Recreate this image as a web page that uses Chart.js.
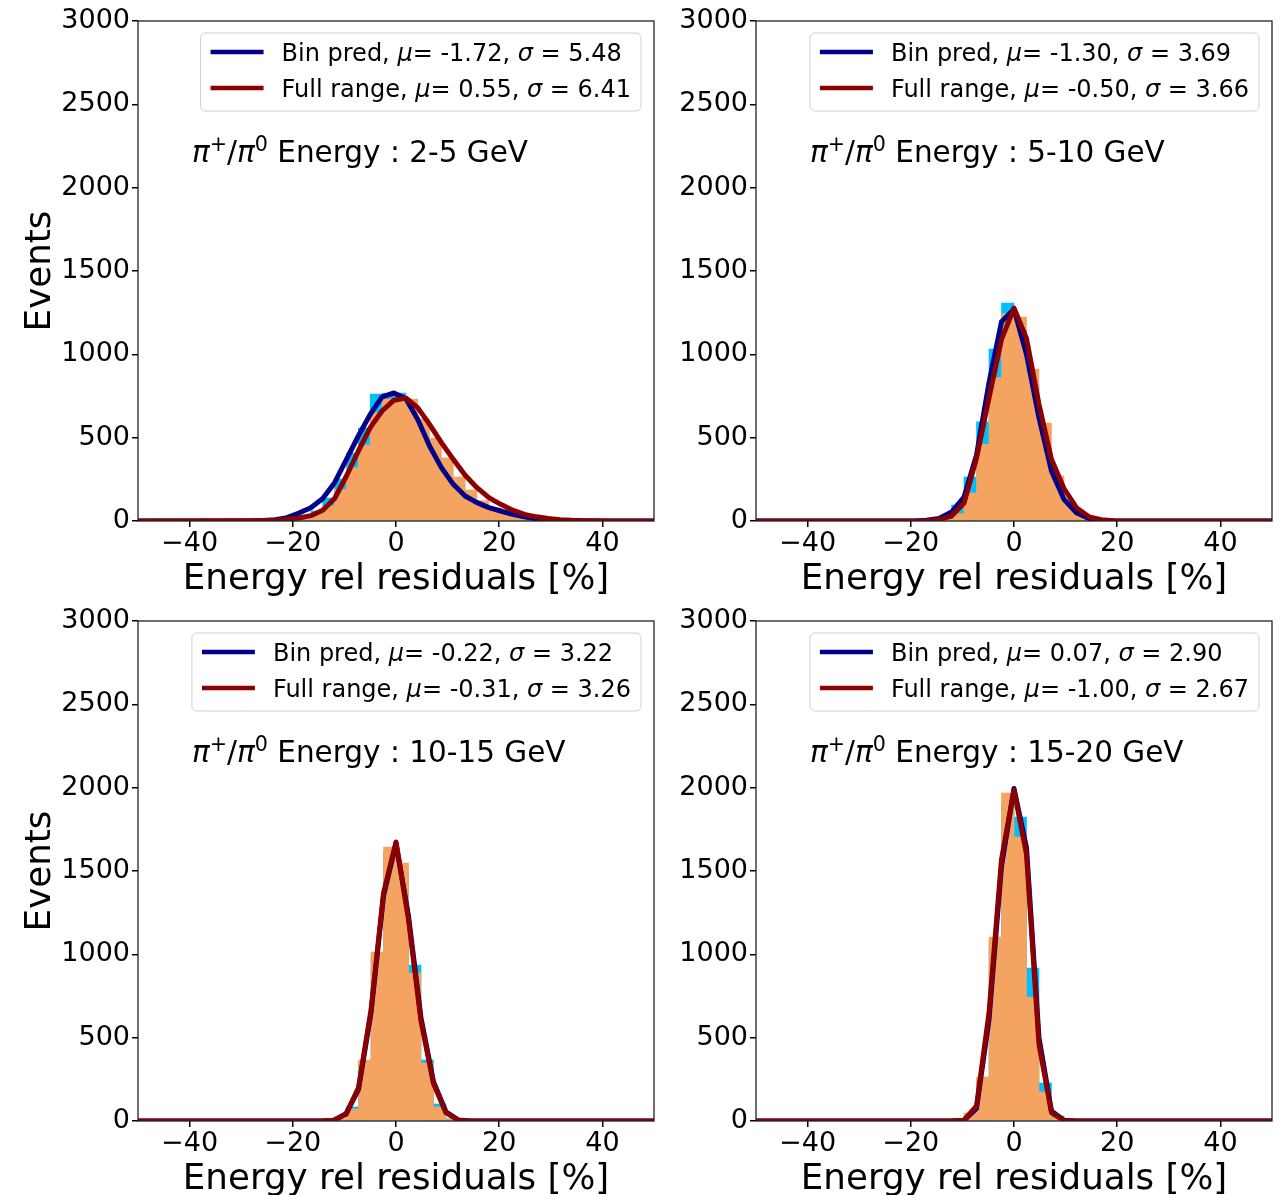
<!DOCTYPE html>
<html>
<head>
<meta charset="utf-8">
<script src="https://cdn.jsdelivr.net/npm/chart.js@4.4.0/dist/chart.umd.min.js"></script>
<style>
  body { margin: 0; background: #fff; width: 1285px; height: 1195px; overflow: hidden; position: relative; }
  .panel { position: absolute; width: 660px; height: 600px; }
</style>
</head>
<body>
<div class="panel" style="left:0;top:0"><canvas id="c1" width="660" height="600"></canvas></div>
<div class="panel" style="left:618px;top:0"><canvas id="c2" width="660" height="600"></canvas></div>
<div class="panel" style="left:0;top:600px"><canvas id="c3" width="660" height="600"></canvas></div>
<div class="panel" style="left:618px;top:600px"><canvas id="c4" width="660" height="600"></canvas></div>
<script>
const xTicks = [-40, -20, 0, 20, 40];
const yTicks = [0, 500, 1000, 1500, 2000, 2500, 3000];
const energyRanges = ['2-5 GeV', '5-10 GeV', '10-15 GeV', '15-20 GeV'];
const binPredMu = [-1.72, -1.30, -0.22, 0.07];
const binPredSigma = [5.48, 3.69, 3.22, 2.90];
const fullMu = [0.55, -0.50, -0.31, -1.00];
const fullSigma = [6.41, 3.66, 3.26, 2.67];

// panel 1: 2-5 GeV
const p1Bins = [-24.55, -22.25, -19.95, -17.65, -15.35, -13.05, -10.75, -8.45, -6.15, -3.85, -1.55, 0.75, 3.05, 5.35, 7.65, 9.95, 12.25, 14.55, 16.85, 19.15, 21.45, 23.75, 26.05, 28.35, 30.65, 32.95];
const p1HistBin  = [2, 4, 10, 25, 60, 138, 252, 408, 558, 762, 766, 768, 660, 520, 380, 250, 150, 85, 45, 22, 10, 5, 2, 1, 0, 0];
const p1HistFull = [1, 3, 8, 20, 45, 90, 190, 320, 455, 650, 732, 740, 732, 612, 498, 378, 264, 186, 122, 78, 46, 26, 14, 7, 3, 1];
const p1FitX = [-50, -28.0, -25.7, -23.4, -21.1, -18.8, -16.5, -14.2, -11.9, -9.6, -7.3, -5.0, -2.7, -0.4, 1.9, 4.2, 6.5, 8.8, 11.1, 13.4, 15.7, 18.0, 20.3, 22.6, 24.9, 27.2, 29.5, 31.8, 34.1, 36.4, 38.7, 41.0, 50];
const p1FitBin  = [0, 1, 3, 8, 20, 48, 80, 135, 230, 370, 510, 640, 745, 768, 735, 610, 450, 320, 220, 150, 110, 80, 60, 40, 25, 12, 5, 2, 1, 0, 0, 0, 0];
const p1FitFull = [0, 1, 2, 5, 10, 18, 32, 65, 135, 270, 420, 560, 660, 725, 738, 680, 580, 470, 370, 275, 200, 140, 100, 65, 40, 25, 15, 8, 4, 2, 1, 0, 0];

// panel 2: 5-10 GeV
const p2Bins = [-15.73, -13.31, -10.89, -8.47, -6.05, -3.63, -1.21, 1.21, 3.63, 6.05, 8.47, 10.89, 13.31, 15.73, 18.15];
const p2HistBin  = [8, 30, 96, 264, 595, 1032, 1308, 1150, 820, 450, 190, 65, 20, 6, 2];
const p2HistFull = [2, 12, 45, 168, 460, 860, 1245, 1224, 912, 588, 270, 100, 30, 8, 2];
const p2FitX = [-50, -19.36, -16.94, -14.52, -12.1, -9.68, -7.26, -4.84, -2.42, 0, 2.42, 4.84, 7.26, 9.68, 12.1, 14.52, 16.94, 19.36, 50];
const p2FitBin  = [0, 0, 4, 15, 54, 144, 396, 830, 1196, 1270, 1000, 620, 300, 130, 50, 15, 4, 1, 0];
const p2FitFull = [0, 0, 2, 8, 30, 108, 378, 740, 1090, 1278, 1095, 700, 370, 195, 80, 25, 8, 2, 0];

// panel 3: 10-15 GeV
const p3Bins = [-13.31, -10.89, -8.47, -6.05, -3.63, -1.21, 1.21, 3.63, 6.05, 8.47, 10.89, 13.31];
const p3HistBin  = [3, 12, 84, 350, 990, 1610, 1500, 936, 366, 102, 14, 3];
const p3HistFull = [2, 10, 72, 366, 1014, 1644, 1548, 888, 348, 84, 10, 2];
const p3FitX = [-50, -14.52, -12.1, -9.68, -7.26, -4.84, -2.42, 0, 2.42, 4.84, 7.26, 9.68, 12.1, 14.52, 50];
const p3FitBin  = [0, 0, 3, 44, 190, 650, 1350, 1666, 1230, 620, 235, 55, 6, 0, 0];
const p3FitFull = [0, 0, 3, 40, 200, 666, 1368, 1674, 1210, 600, 225, 50, 5, 0, 0];

// panel 4: 15-20 GeV
const p4Bins = [-10.89, -8.47, -6.05, -3.63, -1.21, 1.21, 3.63, 6.05, 8.47, 10.89];
const p4HistBin  = [6, 40, 240, 1050, 1900, 1824, 918, 228, 30, 4];
const p4HistFull = [4, 48, 264, 1104, 1968, 1704, 744, 174, 20, 3];
const p4FitX = [-50, -12.1, -9.68, -7.26, -4.84, -2.42, 0, 2.42, 4.84, 7.26, 9.68, 12.1, 50];
const p4FitBin  = [0, 0, 4, 75, 610, 1530, 1995, 1640, 500, 60, 4, 0, 0];
const p4FitFull = [0, 0, 5, 90, 650, 1570, 1986, 1600, 460, 50, 3, 0, 0];

const FONT = '"DejaVu Sans"';
Chart.defaults.font.family = FONT;

function zip(xs, ys) { return xs.map((x, i) => ({x: x, y: ys[i]})); }
function fmtTick(v) { return v < 0 ? '\u2212' + Math.abs(v) : String(v); }

// draws text made of pieces (italic greek, superscripts), returns width
function richText(ctx, segs, x, y, size, draw) {
  let cx = x;
  segs.forEach(s => {
    const fs = s.sup ? size * 0.7 : size;
    ctx.font = (s.it ? 'italic ' : '') + fs + 'px ' + FONT;
    if (draw) ctx.fillText(s.t, cx, s.sup ? y - size * 0.38 : y);
    cx += ctx.measureText(s.t).width;
  });
  return cx - x;
}

const decor = {
  id: 'decor',
  afterDatasetsDraw(chart) {
    const ctx = chart.ctx, a = chart.chartArea;
    ctx.save();
    ctx.strokeStyle = '#222';
    ctx.lineWidth = 1.3;
    ctx.strokeRect(a.left, a.top, a.right - a.left, a.bottom - a.top);
    ctx.restore();
  },
  afterDraw(chart, args, o) {
    const ctx = chart.ctx, a = chart.chartArea;
    ctx.save();
    ctx.fillStyle = '#000';
    ctx.textBaseline = 'alphabetic';

    // legend box
    const rows = [
      {color: '#00008b', segs: [{t: 'Bin pred, '}, {t: '\u03bc', it: true}, {t: '= ' + o.binMu.toFixed(2) + ', '}, {t: '\u03c3', it: true}, {t: ' = ' + o.binSigma.toFixed(2)}]},
      {color: '#8b0000', segs: [{t: 'Full range, '}, {t: '\u03bc', it: true}, {t: '= ' + o.fullMu.toFixed(2) + ', '}, {t: '\u03c3', it: true}, {t: ' = ' + o.fullSigma.toFixed(2)}]}
    ];
    let maxW = 0;
    rows.forEach(r => { maxW = Math.max(maxW, richText(ctx, r.segs, 0, 0, 24, false)); });
    const right = a.right - 13, left = right - (81 + maxW + 10);
    const top = a.top + 12, bottom = a.top + 90, rad = 5;
    ctx.beginPath();
    ctx.moveTo(left + rad, top);
    ctx.arcTo(right, top, right, bottom, rad);
    ctx.arcTo(right, bottom, left, bottom, rad);
    ctx.arcTo(left, bottom, left, top, rad);
    ctx.arcTo(left, top, right, top, rad);
    ctx.closePath();
    ctx.fillStyle = 'rgba(255,255,255,0.8)';
    ctx.fill();
    ctx.strokeStyle = '#d0d0d0';
    ctx.lineWidth = 1;
    ctx.stroke();
    rows.forEach((r, i) => {
      const y = a.top + 31 + i * 36;
      ctx.strokeStyle = r.color;
      ctx.lineWidth = 4.5;
      ctx.beginPath();
      ctx.moveTo(left + 10, y);
      ctx.lineTo(left + 63, y);
      ctx.stroke();
      ctx.fillStyle = '#000';
      richText(ctx, r.segs, left + 81, y + 8.5, 24, true);
    });

    // energy label
    ctx.fillStyle = '#000';
    richText(ctx, [{t: '\u03c0', it: true}, {t: '+', sup: true}, {t: '/'}, {t: '\u03c0', it: true}, {t: '0', sup: true}, {t: ' Energy : ' + o.range}], a.left + 54, a.top + 141, 29.5, true);

    // axis titles
    ctx.font = '35.7px ' + FONT;
    ctx.textAlign = 'center';
    ctx.fillText('Energy rel residuals [%]', (a.left + a.right) / 2, a.bottom + 68);
    if (o.yLabel) {
      ctx.translate(50, (a.top + a.bottom) / 2);
      ctx.rotate(-Math.PI / 2);
      ctx.fillText('Events', 0, 0);
    }
    ctx.restore();
  }
};

function makePanel(id, idx, bins, histBin, histFull, fitX, fitBin, fitFull, yLabel) {
  new Chart(document.getElementById(id), {
    type: 'bar',
    data: {
      datasets: [
        {type: 'line', label: 'Full range', data: zip(fitX, fitFull), borderColor: '#8b0000', borderWidth: 5,
         pointRadius: 0, tension: 0, fill: false, borderJoinStyle: 'round', order: 0},
        {type: 'line', label: 'Bin pred', data: zip(fitX, fitBin), borderColor: '#00008b', borderWidth: 5,
         pointRadius: 0, tension: 0, fill: false, borderJoinStyle: 'round', order: 1},
        {label: 'Full range hist', data: zip(bins, histFull), backgroundColor: '#f4a460', borderWidth: 0,
         grouped: false, barPercentage: 1, categoryPercentage: 1, order: 2},
        {label: 'Bin pred hist', data: zip(bins, histBin), backgroundColor: '#00bfff', borderWidth: 0,
         grouped: false, barPercentage: 1, categoryPercentage: 1, order: 3}
      ]
    },
    options: {
      responsive: false,
      animation: false,
      layout: {padding: {left: 0, right: 6, top: 21, bottom: 0}},
      plugins: {
        legend: {display: false},
        tooltip: {enabled: false},
        decor: {
          range: energyRanges[idx], binMu: binPredMu[idx], binSigma: binPredSigma[idx],
          fullMu: fullMu[idx], fullSigma: fullSigma[idx], yLabel: yLabel
        }
      },
      scales: {
        x: {
          type: 'linear', min: -50, max: 50, offset: false,
          grid: {offset: false, drawOnChartArea: false, drawTicks: true, tickLength: 6, color: '#000', lineWidth: 1.5},
          border: {display: false},
          afterBuildTicks: s => { s.ticks = xTicks.map(v => ({value: v})); },
          afterFit: s => { s.height = 79; },
          ticks: {color: '#000', font: {size: 27}, padding: 1, maxRotation: 0, callback: v => fmtTick(v)}
        },
        y: {
          type: 'linear', min: 0, max: 3000,
          grid: {drawOnChartArea: false, drawTicks: true, tickLength: 6, color: '#000', lineWidth: 1.5},
          border: {display: false},
          afterBuildTicks: s => { s.ticks = yTicks.map(v => ({value: v})); },
          afterFit: s => { s.width = 138; },
          ticks: {color: '#000', font: {size: 27}, padding: 2, callback: v => String(v)}
        }
      }
    },
    plugins: [decor]
  });
}

makePanel('c1', 0, p1Bins, p1HistBin, p1HistFull, p1FitX, p1FitBin, p1FitFull, true);
makePanel('c2', 1, p2Bins, p2HistBin, p2HistFull, p2FitX, p2FitBin, p2FitFull, false);
makePanel('c3', 2, p3Bins, p3HistBin, p3HistFull, p3FitX, p3FitBin, p3FitFull, true);
makePanel('c4', 3, p4Bins, p4HistBin, p4HistFull, p4FitX, p4FitBin, p4FitFull, false);
</script>
</body>
</html>
